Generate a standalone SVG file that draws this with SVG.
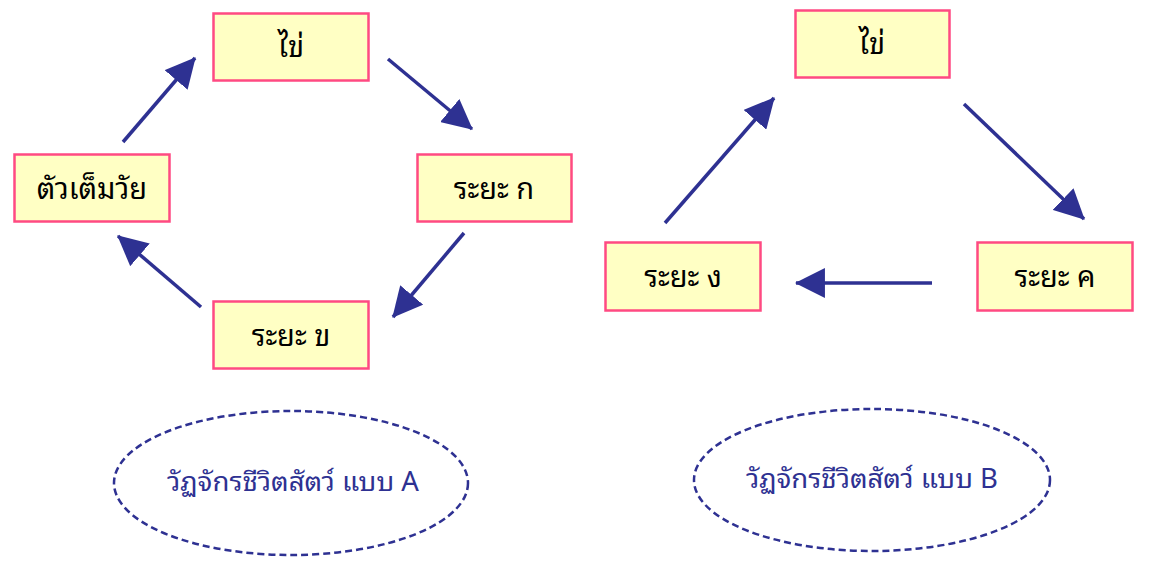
<svg xmlns="http://www.w3.org/2000/svg" width="1154" height="566" viewBox="0 0 1154 566">
<defs>
<style>
.box{fill:#FFFFC4;stroke:#FF4A82;stroke-width:2.5}
.lbl{font-family:"Noto Sans Thai Looped","Noto Serif Thai","Noto Sans Thai","Noto Sans","DejaVu Sans",sans-serif;font-size:29px;fill:#000;text-anchor:middle}
.conn{stroke:#2E3192;stroke-width:3.5;fill:none;marker-end:url(#ah)}
.oval{fill:none;stroke:#2E3192;stroke-width:2.5;stroke-dasharray:7 4}
.cap{font-family:"Noto Sans Thai Looped","Noto Sans Thai","Liberation Sans","Noto Sans",sans-serif;font-size:27px;fill:#2E3192;text-anchor:middle}
</style>
<marker id="ah" markerUnits="userSpaceOnUse" markerWidth="30" markerHeight="30" viewBox="0 0 28 28" refX="27" refY="14" orient="auto">
<path d="M0,0 L28,14 L0,28 z" fill="#2E3192"/>
</marker>
</defs>
<rect width="1154" height="566" fill="#fff"/>
<g id="connectors">
<line class="conn" x1="123" y1="142" x2="195" y2="58"/>
<line class="conn" x1="388" y1="59" x2="472" y2="129"/>
<line class="conn" x1="464" y1="233" x2="393" y2="317"/>
<line class="conn" x1="201" y1="307" x2="118" y2="236"/>
<line class="conn" x1="964" y1="104" x2="1084" y2="219"/>
<line class="conn" x1="932" y1="283" x2="796" y2="283"/>
<line class="conn" x1="665" y1="223" x2="774" y2="98"/>
</g>
<g id="a-egg"><rect class="box" x="213.5" y="13.5" width="155" height="67"/><text class="lbl" x="291" y="57">ไข่</text></g>
<g id="a-adult"><rect class="box" x="14.5" y="154.5" width="155" height="67"/><text class="lbl" x="92" y="199">ตัวเต็มวัย</text></g>
<g id="a-stage1"><rect class="box" x="417.5" y="154.5" width="154" height="67"/><text class="lbl" x="494" y="199">ระยะ ก</text></g>
<g id="a-stage2"><rect class="box" x="213.5" y="301.5" width="155" height="67"/><text class="lbl" x="291" y="346">ระยะ ข</text></g>
<g id="b-egg"><rect class="box" x="795.5" y="10.5" width="154" height="67"/><text class="lbl" x="872" y="54">ไข่</text></g>
<g id="b-stage3"><rect class="box" x="977.5" y="242.5" width="155" height="68"/><text class="lbl" x="1055" y="287">ระยะ ค</text></g>
<g id="b-stage4"><rect class="box" x="605.5" y="242.5" width="155" height="68"/><text class="lbl" x="683" y="287">ระยะ ง</text></g>
<g id="caption-a"><ellipse class="oval" cx="291" cy="483" rx="177" ry="72"/><text class="cap" x="293" y="491" textLength="252" lengthAdjust="spacingAndGlyphs">วัฏจักรชีวิตสัตว์ แบบ A</text></g>
<g id="caption-b"><ellipse class="oval" cx="872" cy="480" rx="178" ry="71"/><text class="cap" x="872" y="488" textLength="252" lengthAdjust="spacingAndGlyphs">วัฏจักรชีวิตสัตว์ แบบ B</text></g>
</svg>
